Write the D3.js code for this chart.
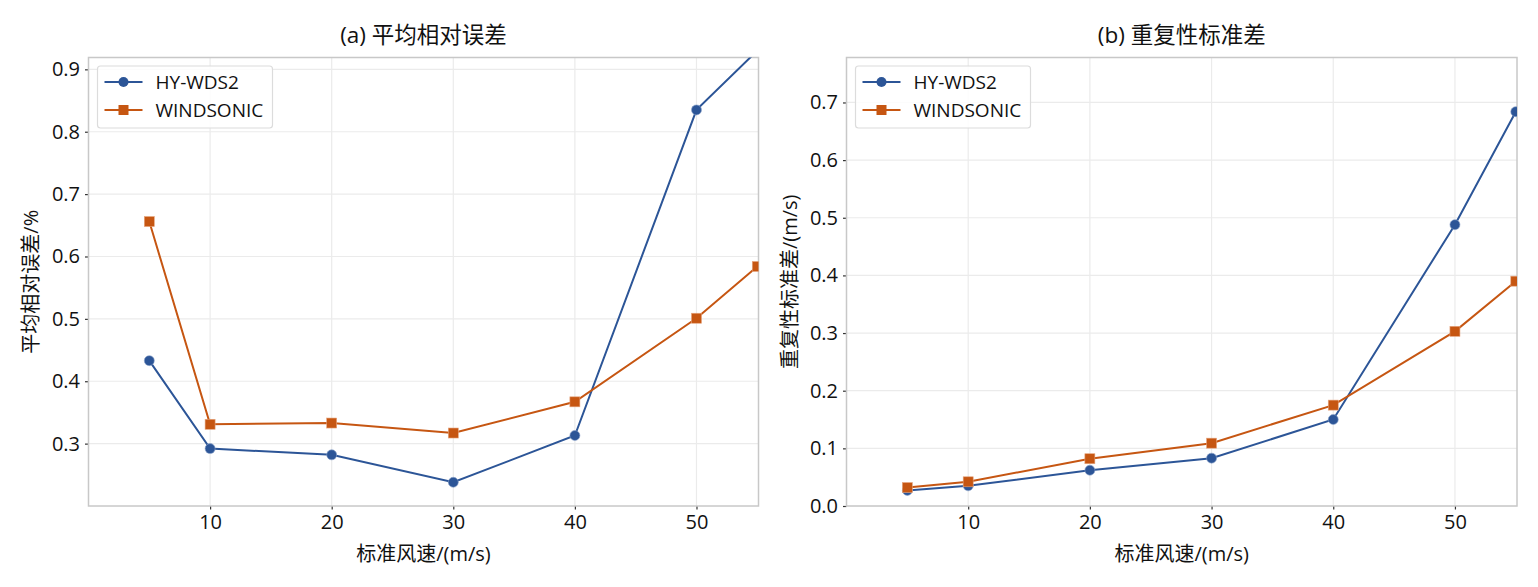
<!DOCTYPE html>
<html>
<head>
<meta charset="utf-8">
<script src="https://cdn.jsdelivr.net/npm/d3@7"></script>
<style>
  html, body { margin: 0; padding: 0; background: #fff; }
  svg text { font-family: "Open Sans", "Noto Sans CJK SC", sans-serif; fill: #111; }
</style>
</head>
<body>
<div id="chart-container"></div>
<script>
// wind speed points (m/s)
const speeds = [5, 10, 20, 30, 40, 50, 55];

// (a) mean relative error, %
const mreHY = [0.433, 0.292, 0.282, 0.238, 0.313, 0.835, 0.93];
const mreWS = [0.656, 0.331, 0.333, 0.317, 0.367, 0.501, 0.584];

// (b) repeatability std, m/s
const sdHY = [0.027, 0.035, 0.062, 0.083, 0.150, 0.488, 0.684];
const sdWS = [0.032, 0.042, 0.082, 0.109, 0.175, 0.303, 0.390];

const seriesNames = ["HY-WDS2", "WINDSONIC"];
const xTicks = [10, 20, 30, 40, 50];
const yTicksA = [0.3, 0.4, 0.5, 0.6, 0.7, 0.8, 0.9];
const yTicksB = [0, 0.1, 0.2, 0.3, 0.4, 0.5, 0.6, 0.7];

const W = 1538, H = 587;
const blue = "#2c5597", orange = "#c65612";

const svg = d3.select("#chart-container")
  .append("svg")
  .attr("width", W)
  .attr("height", H);

const panels = [
  { id: "a", title: "(a) 平均相对误差", ylabel: "平均相对误差/%", left: 88.5, right: 758.5,
    yDomain: [0.2, 0.919], yTicks: yTicksA, fmt: d3.format(".1f"), hy: mreHY, ws: mreWS, ylabX: 31 },
  { id: "b", title: "(b) 重复性标准差", ylabel: "重复性标准差/(m/s)", left: 846.5, right: 1517,
    yDomain: [0, 0.778], yTicks: yTicksB, fmt: d3.format(".1f"), hy: sdHY, ws: sdWS, ylabX: 790 }
];

const plotTop = 57.5, plotBottom = 506;

panels.forEach(p => {
  const x = d3.scaleLinear().domain([0, 55.1]).range([p.left, p.right]);
  const y = d3.scaleLinear().domain(p.yDomain).range([plotBottom, plotTop]);
  const g = svg.append("g");

  // grid
  g.append("g").selectAll("line").data(xTicks).join("line")
    .attr("x1", d => x(d)).attr("x2", d => x(d))
    .attr("y1", plotTop).attr("y2", plotBottom)
    .attr("stroke", "#ebebeb").attr("stroke-width", 1.2);
  g.append("g").selectAll("line").data(p.yTicks).join("line")
    .attr("x1", p.left).attr("x2", p.right)
    .attr("y1", d => y(d)).attr("y2", d => y(d))
    .attr("stroke", "#ebebeb").attr("stroke-width", 1.2);

  // axes
  const xAxis = g.append("g")
    .attr("transform", `translate(0,${plotBottom})`)
    .call(d3.axisBottom(x).tickValues(xTicks).tickSize(3.5).tickPadding(5).tickFormat(d3.format("d")));
  const yAxis = g.append("g")
    .attr("transform", `translate(${p.left},0)`)
    .call(d3.axisLeft(y).tickValues(p.yTicks).tickSize(3.5).tickPadding(5).tickFormat(p.fmt));
  [xAxis, yAxis].forEach(a => {
    a.select(".domain").remove();
    a.selectAll(".tick line").attr("stroke", "#333").attr("stroke-width", 1.2);
    a.selectAll(".tick text").style("font-size", "20px").attr("fill", "#111");
  });

  // frame
  g.append("rect")
    .attr("x", p.left).attr("y", plotTop)
    .attr("width", p.right - p.left).attr("height", plotBottom - plotTop)
    .attr("fill", "none").attr("stroke", "#c8c8c8").attr("stroke-width", 1.5);

  // clip
  svg.append("clipPath").attr("id", "clip-" + p.id)
    .append("rect")
    .attr("x", p.left).attr("y", plotTop)
    .attr("width", p.right - p.left).attr("height", plotBottom - plotTop);

  const plot = g.append("g").attr("clip-path", `url(#clip-${p.id})`);
  const line = d3.line().x((d, i) => x(speeds[i])).y(d => y(d));

  plot.append("path").datum(p.hy).attr("d", line)
    .attr("fill", "none").attr("stroke", blue).attr("stroke-width", 2);
  plot.append("path").datum(p.ws).attr("d", line)
    .attr("fill", "none").attr("stroke", orange).attr("stroke-width", 2);

  plot.append("g").selectAll("circle").data(p.hy).join("circle")
    .attr("cx", (d, i) => x(speeds[i])).attr("cy", d => y(d))
    .attr("r", 5).attr("fill", blue)
    .attr("stroke", "#8ba3c9").attr("stroke-width", 0.6);
  plot.append("g").selectAll("rect").data(p.ws).join("rect")
    .attr("x", (d, i) => x(speeds[i]) - 5).attr("y", d => y(d) - 5)
    .attr("width", 10).attr("height", 10).attr("fill", orange)
    .attr("stroke", "#e6a57e").attr("stroke-width", 0.6);

  // titles & labels
  g.append("text")
    .attr("x", (p.left + p.right) / 2).attr("y", 43)
    .attr("text-anchor", "middle")
    .style("font-size", "22.5px")
    .text(p.title);

  g.append("text")
    .attr("x", (p.left + p.right) / 2).attr("y", 561)
    .attr("text-anchor", "middle")
    .style("font-size", "20px")
    .text("标准风速/(m/s)");

  g.append("text")
    .attr("transform", `translate(${p.ylabX + 7},${(plotTop + plotBottom) / 2}) rotate(-90)`)
    .attr("text-anchor", "middle")
    .style("font-size", "20px")
    .text(p.ylabel);

  // legend
  const lx = p.left + 9, ly = 66;
  const leg = g.append("g");
  leg.append("rect")
    .attr("x", lx).attr("y", ly).attr("width", 175).attr("height", 62)
    .attr("rx", 3).attr("fill", "#fff").attr("fill-opacity", 0.85)
    .attr("stroke", "#dcdcdc").attr("stroke-width", 1.2);
  const colors = [blue, orange];
  seriesNames.forEach((name, i) => {
    const yy = ly + 16 + i * 28;
    leg.append("line")
      .attr("x1", lx + 7).attr("x2", lx + 45).attr("y1", yy).attr("y2", yy)
      .attr("stroke", colors[i]).attr("stroke-width", 2);
    if (i === 0) {
      leg.append("circle").attr("cx", lx + 26).attr("cy", yy).attr("r", 5).attr("fill", blue);
    } else {
      leg.append("rect").attr("x", lx + 21).attr("y", yy - 5)
        .attr("width", 10).attr("height", 10).attr("fill", orange);
    }
    leg.append("text")
      .attr("x", lx + 58).attr("y", yy + 6.5)
      .style("font-size", "19px")
      .text(name);
  });
});
</script>
</body>
</html>
